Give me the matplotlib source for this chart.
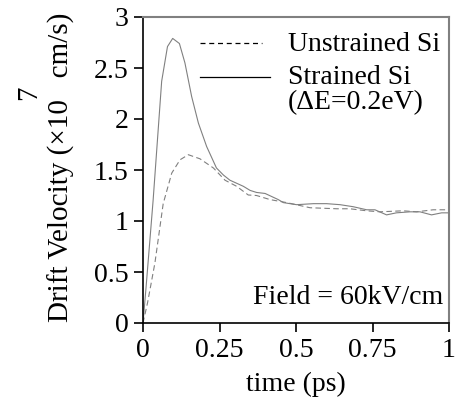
import matplotlib
matplotlib.use("Agg")
import matplotlib.pyplot as plt

plt.rcParams["font.family"] = ["Liberation Serif", "DejaVu Serif"]

# ── data ──────────────────────────────────────────────────────────────────────
t_strained = [0.0, 0.01, 0.033, 0.061, 0.08, 0.097, 0.119, 0.137, 0.159, 0.181,
              0.208, 0.24, 0.263, 0.284, 0.328, 0.35, 0.371, 0.399, 0.442, 0.459,
              0.502, 0.557, 0.60, 0.644, 0.687, 0.731, 0.758, 0.796, 0.828,
              0.873, 0.905, 0.943, 0.976, 1.0]
v_strained = [0.0, 0.35, 1.2, 2.37, 2.71, 2.79, 2.74, 2.55, 2.22, 1.96,
              1.73, 1.52, 1.45, 1.40, 1.34, 1.30, 1.28, 1.27, 1.21, 1.18,
              1.16, 1.17, 1.17, 1.16, 1.14, 1.11, 1.11, 1.06, 1.08,
              1.09, 1.09, 1.06, 1.08, 1.08]

t_unstrained = [0.0, 0.015, 0.039, 0.066, 0.094, 0.121, 0.148, 0.186, 0.23,
                0.268, 0.306, 0.344, 0.371, 0.415, 0.47, 0.546, 0.633, 0.676,
                0.731, 0.774, 0.85, 0.894, 0.948, 1.0]
v_unstrained = [0.0, 0.2, 0.59, 1.17, 1.47, 1.60, 1.65, 1.61, 1.52,
                1.40, 1.34, 1.255, 1.25, 1.21, 1.18, 1.13, 1.12, 1.12,
                1.10, 1.09, 1.10, 1.09, 1.11, 1.11]

x_ticks = [0, 0.25, 0.5, 0.75, 1]
x_tick_labels = ["0", "0.25", "0.5", "0.75", "1"]
y_ticks = [0, 0.5, 1, 1.5, 2, 2.5, 3]
y_tick_labels = ["0", "0.5", "1", "1.5", "2", "2.5", "3"]

W, H = 457, 403
fs = 20

fig = plt.figure(figsize=(W / 100, H / 100), dpi=100)
ax = fig.add_axes([143 / W, 1 - 323 / H, 306 / W, 306 / H])

ax.plot(t_unstrained, v_unstrained, color="#808080", lw=0.8, ls=(0, (5, 3)))
ax.plot(t_strained, v_strained, color="#808080", lw=0.8)

ax.set_xlim(0, 1)
ax.set_ylim(0, 3)
ax.set_xticks(x_ticks, x_tick_labels, fontsize=fs)
ax.set_yticks(y_ticks, y_tick_labels, fontsize=fs)
ax.tick_params(direction="out", length=6.5, width=1.2, color="black", pad=4)

for s in ("left", "bottom"):
    ax.spines[s].set_color("black")
    ax.spines[s].set_linewidth(1.2)
for s in ("top", "right"):
    ax.spines[s].set_color("#808080")
    ax.spines[s].set_linewidth(1.5)

ax.set_xlabel("time (ps)", fontsize=fs, labelpad=7)

# y label with the exponent sitting off to the side, like the original
fig.text(61 / W, 1 - 167 / H, "Drift Velocity (\u00d710   cm/s)", fontsize=21,
         rotation=90, ha="center", va="center")
fig.text(29 / W, 1 - 93 / H, "7", fontsize=21, rotation=90,
         ha="center", va="center")

# legend drawn by hand to match the original layout
ax.plot([0.186, 0.389], [2.75, 2.75], color="black", lw=0.9, ls=(0, (4, 3)))
ax.plot([0.186, 0.415], [2.41, 2.41], color="black", lw=0.9)
ax.text(0.474, 2.73, "Unstrained Si", fontsize=fs, va="center")
ax.text(0.474, 2.41, "Strained Si", fontsize=fs, va="center")
ax.text(0.474, 2.16, "(\u0394E=0.2eV)", fontsize=fs, va="center")

ax.text(0.98, 0.25, "Field = 60kV/cm", fontsize=fs, ha="right", va="center")

fig.savefig("out.png", dpi=100)
